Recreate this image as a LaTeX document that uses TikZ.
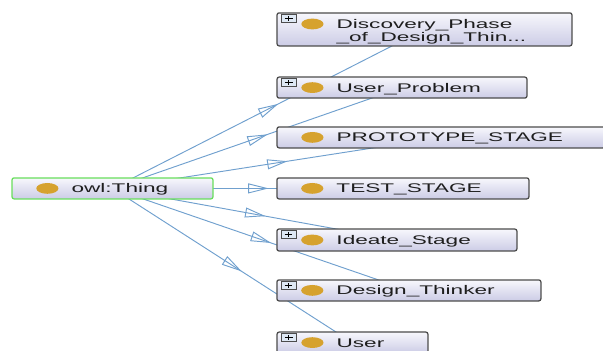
\documentclass[tikz,border=0pt]{standalone}
\usepackage{fontspec}
\usetikzlibrary{backgrounds,calc,shapes,arrows.meta,decorations.markings,positioning}
\newfontfamily\classfont[FakeStretch=1.8]{Liberation Sans}
\definecolor{edgecolor}{RGB}{112, 160, 206}
\definecolor{bordercolor}{RGB}{76, 76, 76}
\definecolor{rootcolor}{RGB}{104, 222, 92}
\definecolor{topcolor}{RGB}{247, 247, 252}
\definecolor{bottomcolor}{RGB}{204, 204, 230}
\definecolor{dotcolor}{RGB}{214, 162, 46}
\definecolor{iconcolor}{RGB}{222, 232, 244}
\definecolor{textcolor}{RGB}{30, 30, 30}

\begin{document}
\begin{tikzpicture}[
  classbox/.style={draw=bordercolor, line width=1.2pt, rounded corners=2pt,
    top color=topcolor, bottom color=bottomcolor, minimum height=0.7cm, inner sep=0pt},
  rootbox/.style={classbox, draw=rootcolor, line width=1.2pt},
  classdot/.style={ellipse, fill=dotcolor, minimum width=0.74cm, minimum height=0.36cm, inner sep=0pt},
  classlabel/.style={font=\classfont\fontsize{11.9}{12.4}\selectfont, text=textcolor,
    inner sep=0pt, align=left, anchor=base west},
  expandicon/.style={draw=bordercolor, line width=0.6pt, fill=iconcolor, anchor=north west,
    minimum width=0.5cm, minimum height=0.28cm, inner sep=0pt,
    path picture={\draw[black, line width=0.8pt]
      ([xshift=-0.13cm]path picture bounding box.center) -- ([xshift=0.13cm]path picture bounding box.center)
      ([yshift=-0.08cm]path picture bounding box.center) -- ([yshift=0.08cm]path picture bounding box.center);}},
  subclass/.style={draw=edgecolor, line width=0.9pt, postaction={decorate},
    decoration={markings, mark=at position 0.5 with {\draw[edgecolor, line width=0.9pt]
      (0.3,0) -- (-0.3,0.15) -- (-0.3,-0.15) -- cycle;}}}
]
  \useasboundingbox (0,0) rectangle (20.1,11.7);

  % Root class
  \node[rootbox, minimum width=6.7cm] (thing) at (3.75,5.42) {};
  \node[classdot] (thingdot) at ([xshift=1.2cm]thing.west) {};
  \node[classlabel] (thinglabel) at ([xshift=2cm,yshift=-0.15cm]thing.west) {owl:Thing};

  % Subclasses
  \node[classbox, minimum width=9.83cm, minimum height=1.1cm] (discovery) at (14.15,10.72) {};
  \node[classbox, minimum width=8.33cm] (userproblem) at (13.4,8.78) {};
  \node[classbox, minimum width=10.93cm] (prototype) at (14.7,7.12) {};
  \node[classbox, minimum width=8.4cm] (teststage) at (13.43,5.42) {};
  \node[classbox, minimum width=8.0cm, minimum height=0.73cm] (ideate) at (13.23,3.7) {};
  \node[classbox, minimum width=8.8cm] (designthinker) at (13.63,2.02) {};
  \node[classbox, minimum width=5.03cm] (user) at (11.75,0.28) {};

  % Class icons
  \node[classdot] (discoverydot) at ([xshift=1.2cm,yshift=0.18cm]discovery.west) {};
  \node[classdot] (userproblemdot) at ([xshift=1.2cm]userproblem.west) {};
  \node[classdot] (prototypedot) at ([xshift=1.2cm]prototype.west) {};
  \node[classdot] (teststagedot) at ([xshift=1.2cm]teststage.west) {};
  \node[classdot] (ideatedot) at ([xshift=1.2cm]ideate.west) {};
  \node[classdot] (designthinkerdot) at ([xshift=1.2cm]designthinker.west) {};
  \node[classdot] (userdot) at ([xshift=1.2cm]user.west) {};

  % Class names
  \node[classlabel] (discoverylabel) at ([xshift=2cm,yshift=-0.42cm]discovery.west) {Discovery\_Phase\\\_of\_Design\_Thin...};
  \node[classlabel] (userproblemlabel) at ([xshift=2cm,yshift=-0.15cm]userproblem.west) {User\_Problem};
  \node[classlabel] (prototypelabel) at ([xshift=2cm,yshift=-0.15cm]prototype.west) {PROTOTYPE\_STAGE};
  \node[classlabel] (teststagelabel) at ([xshift=2cm,yshift=-0.15cm]teststage.west) {TEST\_STAGE};
  \node[classlabel] (ideatelabel) at ([xshift=2cm,yshift=-0.15cm]ideate.west) {Ideate\_Stage};
  \node[classlabel] (designthinkerlabel) at ([xshift=2cm,yshift=-0.15cm]designthinker.west) {Design\_Thinker};
  \node[classlabel] (userlabel) at ([xshift=2cm,yshift=-0.15cm]user.west) {User};

  % Expand buttons on classes with children
  \node[expandicon] (discoveryplus) at ([xshift=0.15cm,yshift=-0.05cm]discovery.north west) {};
  \node[expandicon] (userproblemplus) at ([xshift=0.15cm,yshift=-0.05cm]userproblem.north west) {};
  \node[expandicon] (ideateplus) at ([xshift=0.15cm,yshift=-0.05cm]ideate.north west) {};
  \node[expandicon] (designthinkerplus) at ([xshift=0.15cm,yshift=-0.05cm]designthinker.north west) {};
  \node[expandicon] (userplus) at ([xshift=0.15cm,yshift=-0.05cm]user.north west) {};

  % Subclass edges, centre to centre behind the boxes
  \begin{scope}[on background layer]
    \draw[subclass] (thing.center) -- (discovery.center);
    \draw[subclass] (thing.center) -- (userproblem.center);
    \draw[subclass] (thing.center) -- (prototype.center);
    \draw[subclass] (thing.center) -- (teststage.center);
    \draw[subclass] (thing.center) -- (ideate.center);
    \draw[subclass] (thing.center) -- (designthinker.center);
    \draw[subclass] (thing.center) -- (user.center);
  \end{scope}
\end{tikzpicture}
\end{document}
